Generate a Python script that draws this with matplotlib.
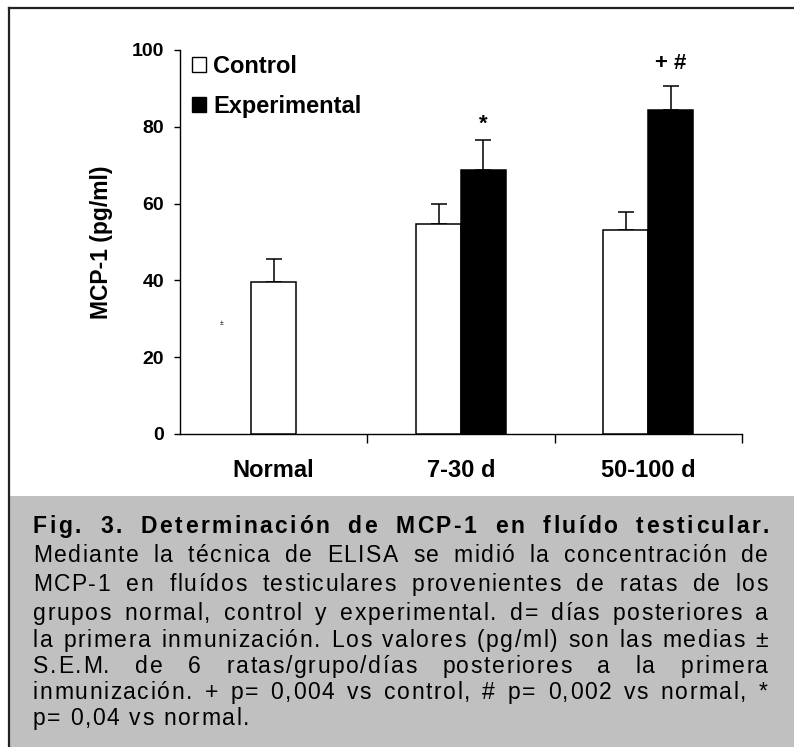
import numpy as np
import matplotlib.pyplot as plt
from matplotlib.patches import Patch, Rectangle
from matplotlib.lines import Line2D

plt.rcParams['font.family'] = ['Liberation Sans', 'DejaVu Sans']

categories = ['Normal', '7-30 d', '50-100 d']
control = [39.5, 54.6, 53.1]
control_err = [6.2, 5.3, 4.6]
experimental = [np.nan, 68.7, 84.3]
experimental_err = [np.nan, 7.8, 6.2]
marks = ['', '*', '+ #']

caption = [
    'Fig. 3. Determinación de MCP-1 en fluído testicular.',
    'Mediante la técnica de ELISA se midió la concentración de',
    'MCP-1 en fluídos testiculares provenientes de ratas de los',
    'grupos normal, control y experimental. d= días posteriores a',
    'la primera inmunización. Los valores (pg/ml) son las medias ±',
    'S.E.M. de 6 ratas/grupo/días posteriores a la primera',
    'inmunización. + p= 0,004 vs control, # p= 0,002 vs normal, *',
    'p= 0,04 vs normal.',
]

W, H = 794, 747
fig = plt.figure(figsize=(W / 100, H / 100), dpi=100)
renderer = fig.canvas.get_renderer()

# gray caption panel and frame lines
fig.patches.append(Rectangle((9 / W, 0), 1, (H - 496) / H, transform=fig.transFigure,
                             facecolor='#c0c0c0', edgecolor='none', zorder=0))
fig.lines.append(Line2D([9 / W, 9 / W], [0, 1 - 8 / H], transform=fig.transFigure,
                        color='#222222', linewidth=1.6))
fig.lines.append(Line2D([9 / W, 1], [1 - 8 / H, 1 - 8 / H], transform=fig.transFigure,
                        color='#222222', linewidth=1.6))

ax = fig.add_axes([180 / W, (H - 434) / H, 562 / W, 384 / H])

x = np.arange(len(categories))
w = 0.24
ctrl_x = np.where(np.isnan(experimental), x, x - w / 2)
exp_x = x + w / 2
exp = np.array(experimental)
exp_e = np.array(experimental_err)
ok = ~np.isnan(exp)

ax.bar(ctrl_x, control, w, color='white', edgecolor='black', linewidth=1.1, zorder=3)
ax.bar(exp_x[ok], exp[ok], w, color='black', edgecolor='black', linewidth=1.1, zorder=3)
ax.errorbar(ctrl_x, control, yerr=[np.zeros(3), control_err], fmt='none',
            ecolor='black', elinewidth=1.1, capsize=5.5, capthick=1.1, zorder=2)
ax.errorbar(exp_x[ok], exp[ok], yerr=[np.zeros(ok.sum()), exp_e[ok]], fmt='none',
            ecolor='black', elinewidth=1.1, capsize=5.5, capthick=1.1, zorder=2)

for i in range(len(categories)):
    if marks[i]:
        ax.text(exp_x[i], exp[i] + exp_e[i] + 4.3 + 1.6 * (len(marks[i]) > 1), marks[i],
                ha='center', va='center', fontsize=16, fontweight='bold')

ax.text(-0.28, 28.9, '±', fontsize=5, ha='center', va='center')

ax.set_xlim(-0.5, 2.5)
ax.set_ylim(0, 100)
ax.set_yticks([0, 20, 40, 60, 80, 100])
ax.set_xticks(x)
ax.set_xticklabels(categories, fontsize=17, fontweight='bold')
ax.set_xticks([0.5, 1.5, 2.5], minor=True)
ax.tick_params(axis='x', which='major', length=0, pad=18)
ax.tick_params(axis='x', which='minor', length=6.5, width=1, direction='out')
ax.tick_params(axis='y', length=4.5, width=1, direction='out', pad=7, labelsize=14)
for t in ax.get_yticklabels():
    t.set_fontweight('bold')
for s in ['top', 'right']:
    ax.spines[s].set_visible(False)
for s in ['left', 'bottom']:
    ax.spines[s].set_linewidth(1.0)

ax.set_ylabel('MCP-1 (pg/ml)', fontsize=16.5, fontweight='bold')
ax.yaxis.set_label_coords(-0.12, 0.5)

ax.legend(handles=[Patch(facecolor='white', edgecolor='black'),
                   Patch(facecolor='black', edgecolor='black')],
          labels=['Control', 'Experimental'], loc='upper left',
          bbox_to_anchor=(192 / W, 1 - 55 / H), bbox_transform=fig.transFigure,
          frameon=False, handlelength=0.6, handleheight=0.6, handletextpad=0.3,
          labelspacing=0.72, borderpad=0, borderaxespad=0,
          prop={'size': 17, 'weight': 'bold'})


# justified caption with letter spacing
def width_px(s, **kw):
    t = fig.text(0, 0, s, **kw)
    wpx = t.get_window_extent(renderer).width
    t.remove()
    return wpx


left, right = 33, 768
baselines = [533, 562, 591, 620, 647, 673, 699, 725]
for n, line in enumerate(caption):
    kw = {'fontsize': 16.5, 'fontweight': 'bold' if n == 0 else 'normal'}
    track = 2.5 if n == 0 else 1.6
    words = line.split(' ')
    offsets = []
    widths = []
    for word in words:
        off = [0.0] + [width_px(word[:i], **kw) + i * track for i in range(1, len(word))]
        offsets.append(off)
        widths.append(width_px(word, **kw) + track * (len(word) - 1))
    if n < len(caption) - 1:
        gap = (right - left - sum(widths)) / (len(words) - 1)
    else:
        gap = width_px('a a', **kw) - 2 * width_px('a', **kw) + 2 * track
    xpos = left
    for word, off, wd in zip(words, offsets, widths):
        for ch, o in zip(word, off):
            fig.text((xpos + o) / W, 1 - baselines[n] / H, ch, va='baseline', ha='left', **kw)
        xpos += wd + gap

fig.savefig('out.png', dpi=100)
